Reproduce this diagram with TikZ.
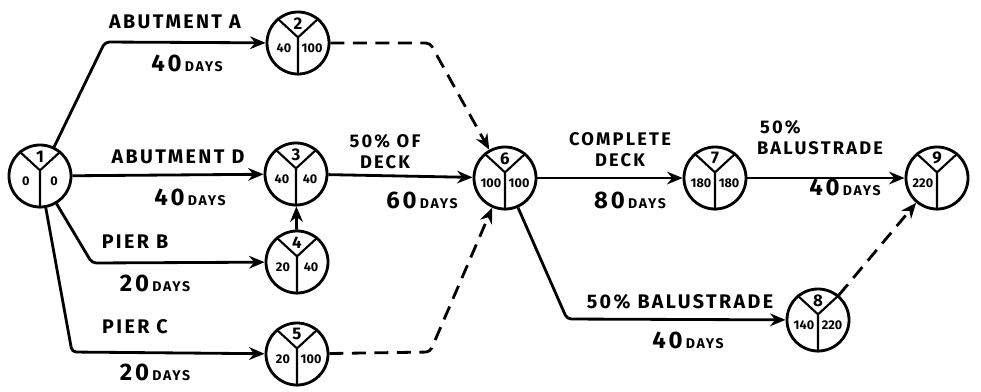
\documentclass[tikz,border=0pt]{standalone}
\usepackage{fontspec}
\setmainfont{Fira Sans}
\newfontfamily\handfont[LetterSpace=12]{Fira Sans}
\usetikzlibrary{arrows.meta}

% event circle: number on top, earliest time left, latest time right
\newcommand{\eventnode}[6]{%
  \node[event] (#1) at (#2,#3) {};
  \draw[divider] (#1.130) -- ([yshift=4pt]#1.center) -- (#1.50)
        ([yshift=4pt]#1.center) -- (#1.south);
  \node[topnum]  (#1-t) at ([yshift=14pt]#1.center) {#4};
  \node[sidenum] (#1-l) at ([xshift=-10pt,yshift=-4pt]#1.center) {#5};
  \node[sidenum] (#1-r) at ([xshift=10pt,yshift=-4pt]#1.center) {#6};
}
\newcommand{\dur}[1]{{\fontsize{17}{17}\selectfont #1}\,{\fontsize{10}{10}\selectfont DAYS}}

\begin{document}
\begin{tikzpicture}[x=0.025cm,y=-0.025cm,
  event/.style={circle,draw,line width=2pt,minimum size=1.55cm,inner sep=0pt},
  divider/.style={line width=1.5pt},
  topnum/.style={font=\bfseries\fontsize{12}{12}\selectfont,inner sep=0pt},
  sidenum/.style={font=\bfseries\fontsize{9}{9}\selectfont,inner sep=0pt},
  activity/.style={line width=2pt,rounded corners=3pt,-{Stealth[length=11pt,width=9pt]}},
  dummy/.style={activity,dash pattern=on 10pt off 6pt},
  lbl/.style={font=\handfont\bfseries\fontsize{14}{14}\selectfont,inner sep=0pt},
  lbl2/.style={lbl,font=\handfont\bfseries\fontsize{13}{15}\selectfont}]
\useasboundingbox (0,0) rectangle (981,391);

% events
\eventnode{n1}{40}{176}{1}{0}{0}
\eventnode{n2}{298}{43}{2}{40}{100}
\eventnode{n3}{296}{174}{3}{40}{40}
\eventnode{n4}{297}{262}{4}{20}{40}
\eventnode{n5}{297}{354}{5}{20}{100}
\eventnode{n6}{505}{178}{6}{100}{100}
\eventnode{n7}{715}{178}{7}{180}{180}
\eventnode{n8}{818}{320}{8}{140}{220}
\eventnode{n9}{937}{178}{9}{220}{}

% bends of the activity lines
\coordinate (c12) at (105,42);
\coordinate (c14) at (92,263);
\coordinate (c15) at (72,352);
\coordinate (c26) at (430,43);
\coordinate (c56) at (430,352);
\coordinate (c68) at (567,319);

% activities
\draw[activity] (n1) -- (c12) -- (n2);
\draw[activity] (n1) -- (n3);
\draw[activity] (n1) -- (c14) -- (n4);
\draw[activity] (n1) -- (c15) -- (n5);
\draw[activity] (n4) -- (n3);
\draw[activity] (n3) -- (n6);
\draw[activity] (n6) -- (n7);
\draw[activity] (n7) -- (n9);
\draw[activity] (n6) -- (c68) -- (n8);

% dummies
\draw[dummy] (n2) -- (c26) -- (n6);
\draw[dummy] (n5) -- (c56) -- (n6);
\draw[dummy] (n8) -- (n9);

% activity labels
\node[lbl] (a12) at (175,22) {ABUTMENT A};
\node[lbl] (d12) at (187,63) {\dur{40}};
\node[lbl] (a13) at (178,157) {ABUTMENT D};
\node[lbl] (d13) at (190,197) {\dur{40}};
\node[lbl] (a14) at (135,242) {PIER B};
\node[lbl] (d14) at (155,283) {\dur{20}};
\node[lbl] (a15) at (135,327) {PIER C};
\node[lbl] (d15) at (155,372) {\dur{20}};
\node[lbl2,align=center] (a36) at (385,152) {50\% OF\\DECK};
\node[lbl] (d36) at (422,200) {\dur{60}};
\node[lbl2,align=center] (a67) at (620,150) {COMPLETE\\DECK};
\node[lbl] (d67) at (630,200) {\dur{80}};
\node[lbl2,align=left] (a79) at (820,138) {\,50\%\\BALUSTRADE};
\node[lbl] (d79) at (845,187) {\dur{40}};
\node[lbl] (a68) at (680,302) {50\% BALUSTRADE};
\node[lbl] (d68) at (688,340) {\dur{40}};
\end{tikzpicture}
\end{document}
